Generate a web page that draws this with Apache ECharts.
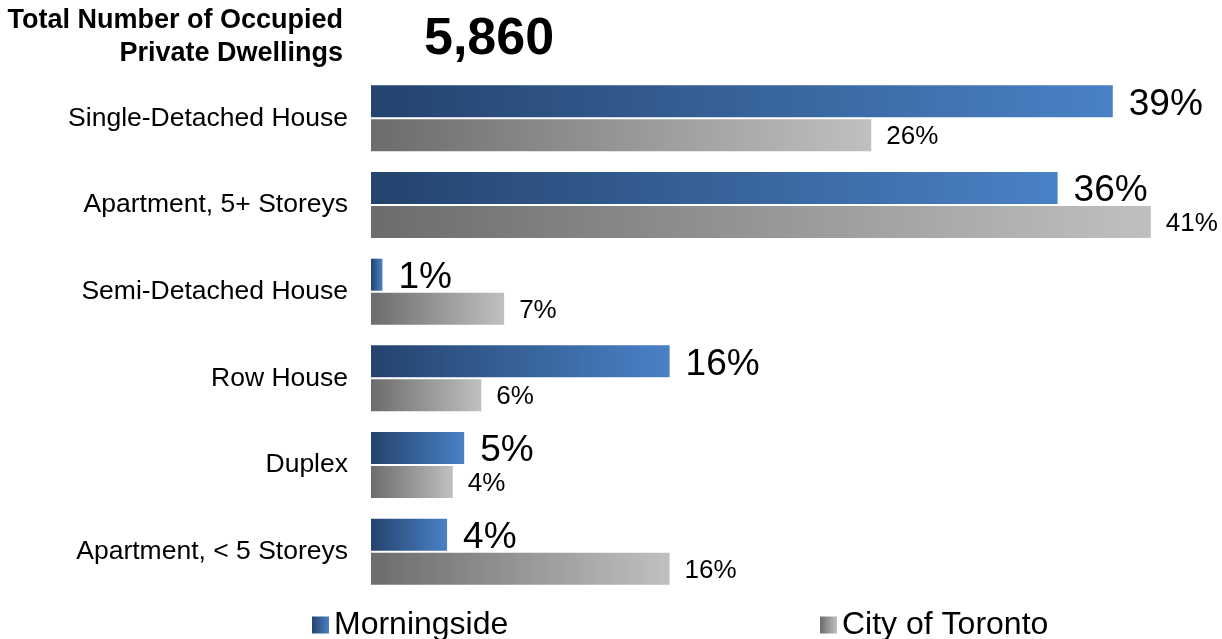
<!DOCTYPE html>
<html>
<head>
<meta charset="utf-8">
<script src="https://cdn.jsdelivr.net/npm/echarts@6/dist/echarts.min.js"></script>
<style>
  html, body { margin: 0; padding: 0; background: #fff; }
  #chart { width: 1222px; height: 639px; }
</style>
</head>
<body>
<div id="chart"></div>
<script>
// dwelling types, top to bottom
const categories = [
  "Single-Detached House",
  "Apartment, 5+ Storeys",
  "Semi-Detached House",
  "Row House",
  "Duplex",
  "Apartment, < 5 Storeys"
];
// shares in %
const morningside = [39.0, 36.1, 0.6, 15.7, 4.9, 4.0];
const toronto = [26.3, 41.0, 7.0, 5.8, 4.3, 15.7];
const totalDwellings = "5,860";

const FONT = "'Liberation Sans', Arial, sans-serif";

const blueFill = new echarts.graphic.LinearGradient(0, 0, 1, 0, [
  { offset: 0, color: "#24436d" },
  { offset: 1, color: "#4a81c6" }
]);
const grayFill = new echarts.graphic.LinearGradient(0, 0, 1, 0, [
  { offset: 0, color: "#6c6c6c" },
  { offset: 1, color: "#c0c0c0" }
]);

const pct = p => Math.round(p.value) + "%";

const chart = echarts.init(document.getElementById("chart"));
chart.setOption({
  animation: false,
  graphic: [
    {
      type: "text",
      x: 343,
      y: 21,
      style: {
        text: "Total Number of Occupied",
        align: "right",
        verticalAlign: "middle",
        font: "bold 27px " + FONT,
        fill: "#000"
      }
    },
    {
      type: "text",
      x: 343,
      y: 54,
      style: {
        text: "Private Dwellings",
        align: "right",
        verticalAlign: "middle",
        font: "bold 27px " + FONT,
        fill: "#000"
      }
    },
    {
      type: "text",
      x: 424,
      y: 40,
      style: {
        text: totalDwellings,
        align: "left",
        verticalAlign: "middle",
        font: "bold 52px " + FONT,
        fill: "#000"
      }
    }
  ],
  legend: [
    {
      data: ["Morningside"],
      left: 312,
      top: 609,
      padding: 0,
      itemWidth: 17,
      itemHeight: 17,
      icon: "rect",
      textStyle: { fontSize: 32, fontFamily: FONT, color: "#000" }
    },
    {
      data: ["City of Toronto"],
      left: 820,
      top: 609,
      padding: 0,
      itemWidth: 17,
      itemHeight: 17,
      icon: "rect",
      textStyle: { fontSize: 32, fontFamily: FONT, color: "#000" }
    }
  ],
  grid: {
    left: 371,
    top: 75,
    width: 44 * 19.02,
    height: 520
  },
  xAxis: {
    type: "value",
    min: 0,
    max: 44,
    show: false
  },
  yAxis: {
    type: "category",
    inverse: true,
    data: categories,
    axisLine: { show: false },
    axisTick: { show: false },
    axisLabel: {
      margin: 23,
      fontSize: 26.5,
      fontFamily: FONT,
      color: "#000"
    }
  },
  series: [
    {
      name: "Morningside",
      type: "bar",
      data: morningside,
      barWidth: 32,
      barGap: "6%",
      itemStyle: { color: blueFill },
      label: {
        show: true,
        position: "right",
        distance: 16,
        offset: [0, 3],
        formatter: pct,
        fontSize: 37,
        fontFamily: FONT,
        color: "#000"
      }
    },
    {
      name: "City of Toronto",
      type: "bar",
      data: toronto,
      barWidth: 32,
      barGap: "6%",
      itemStyle: { color: grayFill },
      label: {
        show: true,
        position: "right",
        distance: 15,
        offset: [0, 2],
        formatter: pct,
        fontSize: 26,
        fontFamily: FONT,
        color: "#000"
      }
    }
  ]
});
</script>
</body>
</html>
